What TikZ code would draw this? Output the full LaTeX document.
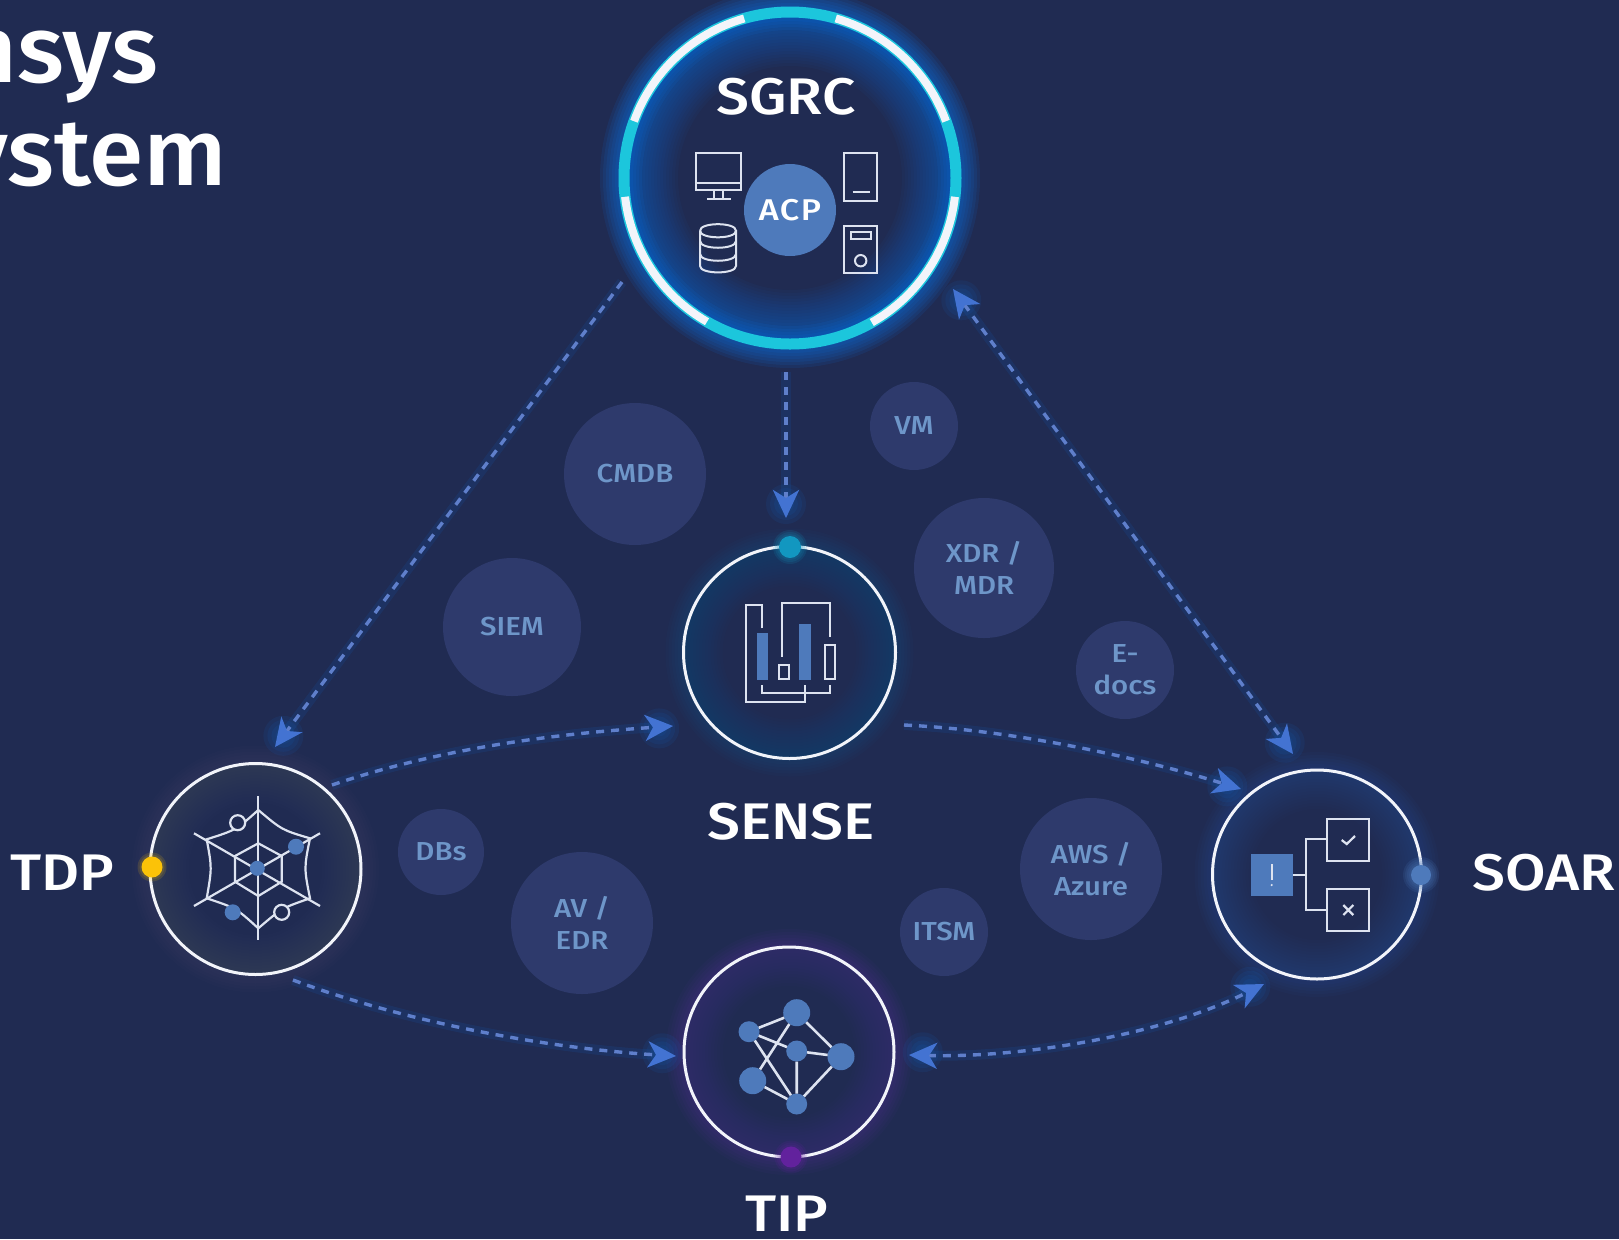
\documentclass[tikz,border=0pt]{standalone}
\usepackage{fontspec}
\setmainfont{Liberation Sans}
\newfontfamily\medfont[Scale=1.03,FakeStretch=1.14]{Fira Sans Medium}
\newfontfamily\headfont[Scale=1.03,FakeStretch=1.04]{Fira Sans Medium}
\newfontfamily\softfont[FakeStretch=1.13]{Fira Sans Medium}
\newfontfamily\acpfont[FakeStretch=1.14,LetterSpace=5]{Fira Sans Medium}
\usetikzlibrary{arrows.meta,calc}
\definecolor{bgc}{HTML}{202B52}
\definecolor{bubblec}{HTML}{2E3A6C}
\definecolor{bubbletxt}{HTML}{6E96C9}
\definecolor{flowc}{HTML}{5F7FCB}
\definecolor{headc}{HTML}{4373D2}
\definecolor{iconblue}{HTML}{4E7ABB}
\definecolor{linec}{HTML}{DDE3F0}
\definecolor{ringc}{HTML}{F2F4FA}
\definecolor{cyanc}{HTML}{1CC6DC}
\definecolor{glowb}{HTML}{0A78F0}
\definecolor{glowt}{HTML}{0C7EB0}
\definecolor{glows}{HTML}{2F62C8}
\definecolor{glowp}{HTML}{7A2BC4}
\definecolor{glowy}{HTML}{8C8FA8}
\newcommand{\glowin}[6]{\foreach \w in {3,6,...,#5}{\draw[line width=\w*0.5pt,draw=#4,opacity=#6] (#1,#2) circle[radius=#3-\w/2];}}
\newcommand{\glowout}[6]{\foreach \w in {3,6,...,#5}{\draw[line width=\w*0.5pt,draw=#4,opacity=#6] (#1,#2) circle[radius=#3+\w/2];}}
\newcommand{\glowdot}[5]{\foreach \w in {2,4,...,#5}{\fill[#4,opacity=.14] (#1,#2) circle[radius=#3+\w];}\fill[#4] (#1,#2) circle[radius=#3];}
\tikzset{
  ring/.style={circle,draw=ringc,line width=1.5pt,inner sep=0pt,outer sep=0pt},
  bubble/.style={circle,fill=bubblec,text=bubbletxt,inner sep=0pt,outer sep=0pt,align=center,font=\softfont\fontsize{13}{16}\selectfont},
  bigtext/.style={text=white,inner sep=0pt,font=\medfont\fontsize{25}{30}\selectfont},
  titletext/.style={text=white,inner sep=0pt,anchor=base east,font=\headfont\fontsize{46}{54}\selectfont},
  flow/.style={draw=flowc,line width=1.7pt,dash pattern=on 4pt off 3.5pt,
    preaction={draw=glowb,draw opacity=.10,line width=5pt,solid},
    -{Stealth[length=14pt,width=13pt,inset=4pt,color=headc]}},
  flowboth/.style={flow,{Stealth[length=14pt,width=13pt,inset=4pt,color=headc]}-{Stealth[length=14pt,width=13pt,inset=4pt,color=headc]}},
  icon/.style={draw=linec,line width=1pt,line join=miter},
  webline/.style={draw=linec,line width=1.1pt},
  tiplink/.style={draw=linec,line width=1.3pt},
  tipdot/.style={circle,fill=iconblue,inner sep=0pt,outer sep=0pt},
}
\begin{document}
\begin{tikzpicture}[x=0.5pt,y=-0.5pt]
\useasboundingbox (0,0) rectangle (1619,1239);
\fill[bgc] (0,0) rectangle (1619,1239);
% title
\node[titletext] (t1) at (159,82) {nsys};
\node[titletext] (t2) at (228,185) {ystem};
% bubbles
\node[bubble,minimum size=71pt] (cmdb) at (635,474) {\raisebox{-1pt}{CMDB}};
\node[bubble,minimum size=44pt] (vm) at (914,426) {\raisebox{-2pt}{VM}};
\node[bubble,minimum size=70pt] (xdr) at (984,568) {XDR /\\MDR};
\node[bubble,minimum size=49pt] (edocs) at (1125,670) {E-\\docs};
\node[bubble,minimum size=69pt] (siem) at (512,627) {SIEM};
\node[bubble,minimum size=43pt] (dbs) at (441,852) {DBs};
\node[bubble,minimum size=71pt] (avedr) at (582,923) {AV /\\EDR};
\node[bubble,minimum size=71pt] (aws) at (1091,869) {AWS /\\Azure};
\node[bubble,minimum size=44pt] (itsm) at (944,932) {\raisebox{-1.5pt}{ITSM}};
% glows
\glowout{790}{178}{166}{glowb}{24}{.10}
\glowin{790}{178}{166}{glowb}{54}{.04}
\glowin{790}{178}{166}{glowb}{18}{.07}
\glowin{789.5}{652.5}{106}{glowt}{39}{.022}
\glowout{789.5}{652.5}{106}{glowt}{18}{.035}
\glowin{255.5}{869}{105.5}{glowy}{39}{.011}
\glowout{255.5}{869}{105.5}{glowy}{18}{.02}
\glowin{1317}{874.5}{104.5}{glows}{39}{.022}
\glowout{1317}{874.5}{104.5}{glows}{18}{.04}
\glowin{789}{1052}{105}{glowp}{39}{.018}
\glowout{789}{1052}{105}{glowp}{18}{.045}
% SGRC ring
\node[circle,draw=cyanc,line width=5.5pt,inner sep=0pt,outer sep=0pt,minimum size=166pt] (sgrc) at (790,178) {};
\draw[ringc,line width=4pt] (790,178) ++(-106:166) arc[start angle=-106,end angle=-160,radius=166];
\draw[ringc,line width=4pt] (790,178) ++(-74:166) arc[start angle=-74,end angle=-20,radius=166];
\draw[ringc,line width=4pt] (790,178) ++(173.5:166) arc[start angle=173.5,end angle=120,radius=166];
\draw[ringc,line width=4pt] (790,178) ++(6.5:166) arc[start angle=6.5,end angle=60.5,radius=166];
\node[bigtext] (sgrct) at (786,97) {SGRC};
\node[circle,fill=iconblue,text=white,inner sep=0pt,minimum size=46pt,font=\acpfont\fontsize{15}{18}\selectfont] (acp) at (790,210) {ACP};
% monitor
\draw[icon] (696,153.3) rectangle (741,190);
\draw[icon] (696,182.7) -- (741,182.7);
\draw[icon] (714,190) -- (714,199.3) (722.7,190) -- (722.7,199.3) (707.3,199.3) -- (730.7,199.3);
% tablet
\draw[icon] (844,153.3) rectangle (877.3,200.7);
\draw[icon] (852.7,191.7) -- (870,191.7);
% database
\draw[icon] (700,230.7) .. controls (700,222) and (736,222) .. (736,230.7) .. controls (736,239.5) and (700,239.5) .. (700,230.7);
\draw[icon] (700,230.7) -- (700,266) .. controls (700,274.5) and (736,274.5) .. (736,266) -- (736,230.7);
\draw[icon] (700,241) .. controls (700,250) and (736,250) .. (736,241);
\draw[icon] (700,254) .. controls (700,263) and (736,263) .. (736,254);
% tower
\draw[icon] (844,226) rectangle (877.3,273.3);
\draw[icon] (850.7,232) rectangle (870.7,239.3);
\draw[icon] (860.7,260.7) circle[radius=5.7];
% SENSE
\node[ring,minimum size=106pt] (sense) at (789.5,652.5) {};
\glowdot{790}{547}{11}{glowt!65!cyanc}{6}
\node[bigtext] (senset) at (791,822) {SENSE};
\draw[icon] (761.7,628.3) -- (761.7,605) -- (746,605) -- (746,702.3) -- (805,702.3) -- (805,685);
\draw[icon] (782.3,656.7) -- (782.3,603.3) -- (830,603.3) -- (830,636.7);
\draw[icon] (761.7,685) -- (761.7,693.3) -- (830,693.3) -- (830,685);
\fill[iconblue] (756.7,633.3) rectangle (768,680);
\fill[iconblue] (799.3,624.3) rectangle (811.3,680);
\draw[icon] (778.7,665) rectangle (788.7,679);
\draw[icon] (825,645) rectangle (835,679);
% TDP
\node[ring,minimum size=105.5pt] (tdp) at (255.5,869) {};
\glowdot{152}{867}{10.5}{yellow!55!orange}{4}
\node[bigtext,anchor=east] (tdpt) at (115,873) {TDP};
\draw[webline] (258.3,796) -- (258.3,940);
\draw[webline] (194,833.3) -- (320,906);
\draw[webline] (320,833.3) -- (194,906);
\draw[webline] (258.3,810) .. controls (282,830) .. (310,838.3) .. controls (304,868) .. (310,898.3) .. controls (282,908) .. (258.3,928.3) .. controls (236,908) .. (206.7,898.3) .. controls (212,868) .. (206.7,839.3) .. controls (236,830) .. cycle;
\draw[webline] (258.3,843.3) -- (281.7,856) -- (281.7,881.7) -- (258.3,896) -- (235,881.7) -- (235,856) -- cycle;
\fill[iconblue] (257.3,868.3) circle[radius=7.5];
\fill[iconblue] (296,846.7) circle[radius=8];
\fill[iconblue] (232.7,912.3) circle[radius=8];
\draw[webline,fill=bgc] (237.7,822.7) circle[radius=7.5];
\draw[webline,fill=bgc] (281.7,912.3) circle[radius=7.5];
% SOAR
\node[ring,minimum size=104.5pt] (soar) at (1317,874.5) {};
\glowdot{1421}{875}{10}{iconblue}{8}
\node[bigtext,anchor=west] (soart) at (1472,873) {SOAR};
\fill[iconblue] (1251,854.3) rectangle (1292.7,895.7);
\draw[linec,line width=.8pt] (1271.7,864) -- (1271.7,880);
\fill[linec] (1271.7,885) circle[radius=1.2];
\draw[icon] (1292.7,875) -- (1305.7,875);
\draw[icon] (1327.3,839.3) -- (1305.7,839.3) -- (1305.7,910) -- (1327.3,910);
\draw[icon] (1327.3,819) rectangle (1369.3,860.7);
\draw[icon] (1327.3,889.3) rectangle (1369.3,931);
\draw[linec,line width=1.1pt] (1341.7,840) -- (1346.7,844) -- (1355,836);
\draw[linec,line width=1.1pt] (1343.3,905) -- (1353.3,915) (1353.3,905) -- (1343.3,915);
% TIP
\node[ring,minimum size=105pt] (tip) at (789,1052) {};
\glowdot{791}{1157}{10.5}{glowp!80!black}{6}
\node[bigtext] (tipt) at (787,1214) {TIP};
\node[tipdot,minimum size=13.5pt] (na) at (796.7,1012.7) {};
\node[tipdot,minimum size=10.5pt] (nb) at (749,1031.7) {};
\node[tipdot,minimum size=10.5pt] (nc) at (796.7,1051) {};
\node[tipdot,minimum size=13.5pt] (nd) at (841,1056.7) {};
\node[tipdot,minimum size=13.5pt] (ne) at (752.7,1080.7) {};
\node[tipdot,minimum size=10.5pt] (nf) at (796.7,1104) {};
\draw[tiplink] (na)--(nb) (na)--(ne) (na)--(nd) (nb)--(nc) (nb)--(nf) (nc)--(nd) (nc)--(nf) (nd)--(nf) (ne)--(nf);
% connector ends
\coordinate (a1) at (622,282); \coordinate (a2) at (275,747);
\coordinate (b1) at (786,372); \coordinate (b2) at (786,518);
\coordinate (c1) at (953,289); \coordinate (c2) at (1293,754);
\coordinate (d1) at (332,785); \coordinate (d2) at (673,726);
\coordinate (e1) at (904,725); \coordinate (e2) at (1241,789);
\coordinate (f1) at (293,980); \coordinate (f2) at (676,1056);
\coordinate (g1) at (909,1055); \coordinate (g2) at (1264,984);
% head halos
\foreach \p/\q in {a2/a1,b2/b1,c2/c1,c1/c2,d2/d1,e2/e1,f2/f1,g2/g1,g1/g2}{
  \foreach \s in {8,12,16,20}{\fill[glowb,opacity=.08] ($(\p)!7pt!(\q)$) circle[radius=\s];}
}
\draw[flow] (a1) -- (a2);
\draw[flow] (b1) -- (b2);
\draw[flowboth] (c1) -- (c2);
\draw[flow] (d1) .. controls (450,745) and (570,733) .. (d2);
\draw[flow] (e1) .. controls (1010,730) and (1130,755) .. (e2);
\draw[flow] (f1) .. controls (400,1020) and (540,1048) .. (f2);
\draw[flowboth] (g1) .. controls (1020,1058) and (1160,1036) .. (g2);
\end{tikzpicture}
\end{document}
